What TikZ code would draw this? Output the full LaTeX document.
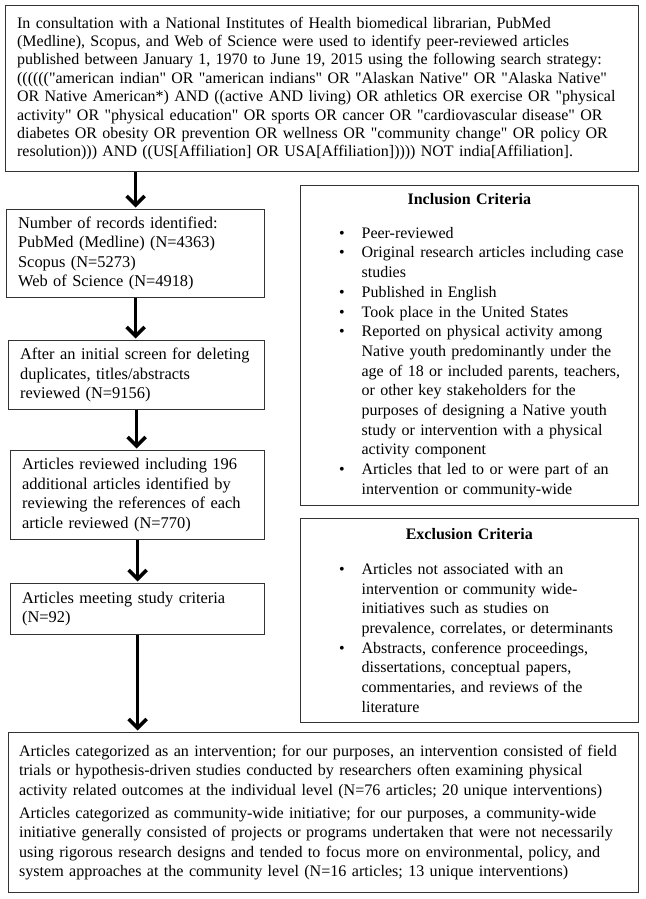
\documentclass[tikz,border=0pt]{standalone}
\usepackage{fontspec}
\setmainfont{Liberation Serif}[Ligatures=TeXOff]
\usetikzlibrary{arrows.meta}
\newenvironment{critlist}{\begin{list}{\textbullet}{%
  \setlength{\leftmargin}{50pt}\setlength{\rightmargin}{-8pt}%
  \setlength{\labelwidth}{20pt}\setlength{\labelsep}{17pt}%
  \setlength{\itemsep}{0pt}\setlength{\parsep}{0pt}%
  \setlength{\topsep}{0pt}\setlength{\partopsep}{0pt}}}%
  {\end{list}}

\begin{document}
\begin{tikzpicture}[x=1pt, y=-1pt, >={Straight Barb[length=9pt,width=18pt]},
    box/.style={draw=black!80, line width=1.2pt, anchor=north west, align=left,
        inner xsep=11.5pt, inner ysep=2pt, font=\fontsize{16.4}{19.5}\selectfont},
    crit/.style={box, text width=315.5pt, font=\fontsize{16}{19.7}\selectfont},
    flow/.style={->, line width=3.6pt, shorten >=1.5pt}]
\useasboundingbox (0,0) rectangle (645,899);

\node[box, text width=609.5pt, minimum height=166pt, font=\fontsize{16}{18.4}\selectfont] (search) at (5,5)
{In consultation with a National Institutes of Health biomedical librarian, PubMed\\
(Medline), Scopus, and Web of Science were used to identify peer-reviewed articles\\
published between January 1, 1970 to June 19, 2015 using the following search strategy:\\
(((((("american indian" OR "american indians" OR "Alaskan Native" OR "Alaska Native"\\
OR Native American*) AND ((active AND living) OR athletics OR exercise OR "physical\\
activity" OR "physical education" OR sports OR cancer OR "cardiovascular disease" OR\\
diabetes OR obesity OR prevention OR wellness OR "community change" OR policy OR\\
resolution))) AND ((US[Affiliation] OR USA[Affiliation])))) NOT india[Affiliation].};

\node[box, text width=235pt, minimum height=88pt] (records) at (6,209)
{Number of records identified:\\ PubMed (Medline) (N=4363)\\ Scopus (N=5273)\\ Web of Science (N=4918)};
\node[box, text width=233pt, minimum height=69pt] (screened) at (8,340)
{After an initial screen for deleting\\ duplicates, titles/abstracts\\ reviewed (N=9156)};
\node[box, text width=231pt, minimum height=89pt] (reviewed) at (10,450)
{Articles reviewed including 196\\ additional articles identified by\\ reviewing the references of each\\ article reviewed (N=770)};
\node[box, text width=231pt, minimum height=51pt] (meeting) at (10,583)
{Articles meeting study criteria\\ (N=92)};

% criteria
\node[crit, minimum height=320pt] (incl) at (299.5,185)
{{\centering\textbf{Inclusion Criteria}\par}\vspace{14pt}
\begin{critlist}
\item Peer-reviewed
\item Original research articles including case\\ studies
\item Published in English
\item Took place in the United States
\item Reported on physical activity among\\ Native youth predominantly under the\\ age of 18 or included parents, teachers,\\ or other key stakeholders for the\\ purposes of designing a Native youth\\ study or intervention with a physical\\ activity component
\item Articles that led to or were part of an\\ intervention or community-wide
\end{critlist}};
\node[crit, minimum height=204pt] (excl) at (299.5,518)
{{\centering\textbf{Exclusion Criteria}\par}\vspace{15pt}
\begin{critlist}
\item Articles not associated with an\\ intervention or community wide-\\ initiatives such as studies on\\ prevalence, correlates, or determinants
\item Abstracts, conference proceedings,\\ dissertations, conceptual papers,\\ commentaries, and reviews of the\\ literature
\end{critlist}};

\node[box, text width=609pt, inner xsep=10.5pt, minimum height=160pt, font=\fontsize{16.1}{19.3}\selectfont] (result) at (8,732)
{Articles categorized as an intervention; for our purposes, an intervention consisted of field\\
trials or hypothesis-driven studies conducted by researchers often examining physical\\
activity related outcomes at the individual level (N=76 articles; 20 unique interventions)\\[4pt]
Articles categorized as community-wide initiative; for our purposes, a community-wide\\
initiative generally consisted of projects or programs undertaken that were not necessarily\\
using rigorous research designs and tended to focus more on environmental, policy, and\\
system approaches at the community level (N=16 articles; 13 unique interventions)};

\draw[flow] (search.south -| records.north) -- (records.north);
\foreach \a/\b in {records/screened, screened/reviewed, reviewed/meeting}
{
    \draw[flow] (\a.south) -- (\a.south |- \b.north);
}
\draw[flow] (meeting.south) -- (meeting.south |- result.north);
\end{tikzpicture}
\end{document}
